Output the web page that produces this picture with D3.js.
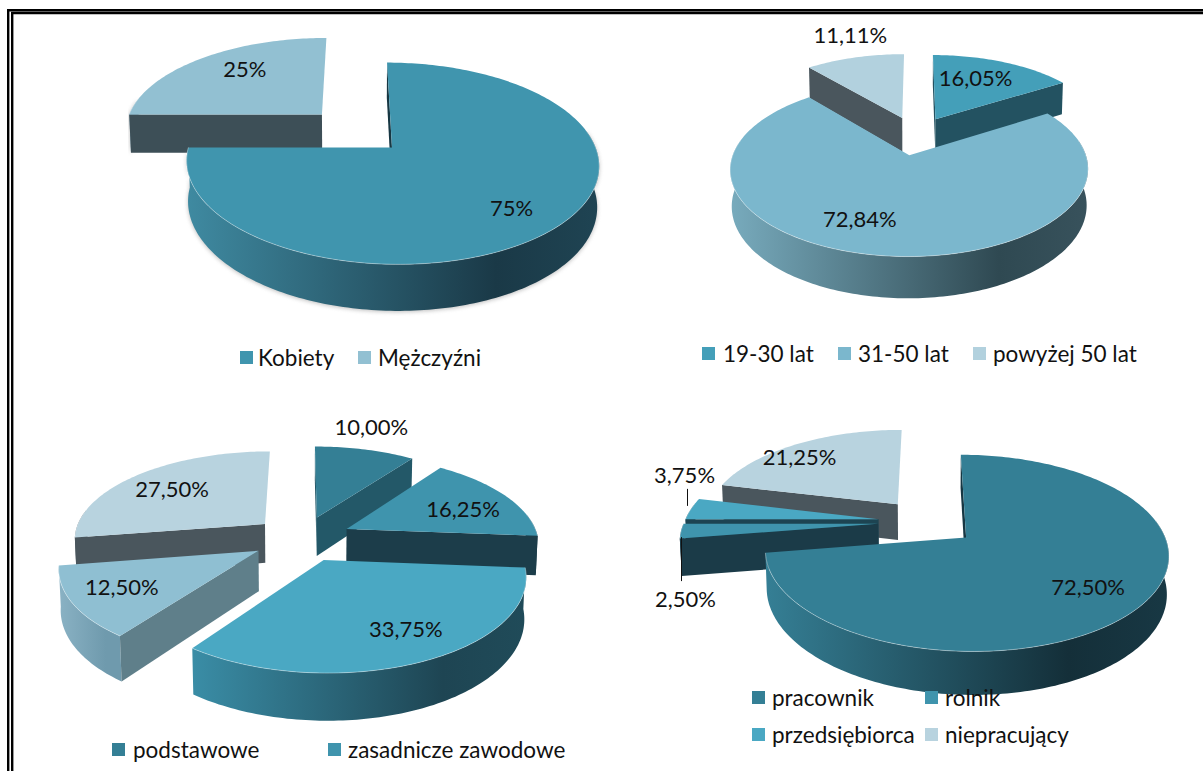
<!DOCTYPE html>
<html>
<head>
<meta charset="utf-8">
<script src="https://cdnjs.cloudflare.com/ajax/libs/d3/7.8.5/d3.min.js"></script>
<style>
html,body{margin:0;padding:0;background:#fff;overflow:hidden}
svg{display:block}
text{font-family:Lato,"Open Sans",sans-serif;fill:#111}
</style>
</head>
<body>
<svg id="c" width="1203" height="771"></svg>
<script>
// ---------- data ----------
const genderLabels = ["Kobiety", "Mężczyźni"];
const genderValues = [75, 25];
const genderText = ["75%", "25%"];

const ageLabels = ["19-30 lat", "31-50 lat", "powyżej 50 lat"];
const ageValues = [16.05, 72.84, 11.11];
const ageText = ["16,05%", "72,84%", "11,11%"];

const eduLabels = ["podstawowe", "zasadnicze zawodowe"];
const eduValues = [10, 16.25, 33.75, 12.5, 27.5];
const eduText = ["10,00%", "16,25%", "33,75%", "12,50%", "27,50%"];

const jobLabels = ["pracownik", "rolnik", "przedsiębiorca", "niepracujący"];
const jobValues = [72.5, 2.5, 3.75, 21.25];
const jobText = ["72,50%", "2,50%", "3,75%", "21,25%"];

// ---------- styles and layout ----------
const bigRim = (a, b, c) => [a, b, c];
const charts = [
  { labels: genderLabels, values: genderValues, text: genderText,
    cx: 356, cy: 130.5, R: 198, Ry: 93, H: 39.5, e: 0.25, shadow: true,
    top: ["#4095ae", "#92c0d2"], side: ["#173743", "#3d4f57"],
    rim: [bigRim("#3f8aa1", "#1a3947", "#1f4453"), bigRim("#8ab", "#8ab", "#8ab")],
    swatch: ["#4095ae", "#92c0d2"],
    labelNudge: [[21,15],[0,-9]],
    legend: [[240, 351, 258], [358, 351, 378]] },
  { labels: ageLabels, values: ageValues, text: ageText,
    cx: 916, cy: 135.5, R: 170, Ry: 78.7, H: 35, e: 0.245,
    top: ["#449fb9", "#7bb7cd", "#b2d1de"], side: ["#235261", "#3c5a66", "#4a565d"],
    rim: [bigRim("#2a6a7c", "#235261", "#235261"), bigRim("#78abbd", "#2f4952", "#38525c"), bigRim("#777", "#777", "#777")],
    swatch: ["#449fb9", "#7bb7cd", "#b2d1de"],
    labelNudge: [[-4,-4],[-30,6],[-21,-43]],
    legend: [[702, 347, 723], [838, 347, 858], [973, 347, 993]] },
  { labels: eduLabels, values: eduValues, text: eduText,
    cx: 302, cy: 538.5, R: 192, Ry: 88, H: 40, e: 0.26,
    top: ["#347f95", "#3f94ad", "#4aa8c3", "#8fbfd2", "#b8d3df"],
    side: ["#235868", "#1c3d4a", "#1c3d4a", "#5f7f8a", "#4a565d"],
    rim: [bigRim("#235868", "#235868", "#235868"), bigRim("#1c3d4a", "#1c3d4a", "#1c3d4a"),
          bigRim("#3a8da6", "#1e4553", "#204b59"), bigRim("#8ab2c4", "#6f9aad", "#6f9aad"), bigRim("#4a565d", "#4a565d", "#4a565d")],
    swatch: ["#347f95", "#3f94ad"],
    labelNudge: [[23,-46],[16,1],[23,11],[-25,5],[-12,-3]],
    legend: [[112, 743, 133], [328, 743, 348]] },
  { labels: jobLabels, values: jobValues, text: jobText,
    cx: 927.5, cy: 522, R: 194, Ry: 91, H: 37, e: 0.255,
    top: ["#347f95", "#3f94ad", "#4aa8c3", "#b8d3df"],
    side: ["#173743", "#1b3b48", "#1d4452", "#4a565d"],
    rim: [bigRim("#357f95", "#142f39", "#183844"), bigRim("#1b3b48", "#1b3b48", "#1b3b48"),
          bigRim("#1d4452", "#1d4452", "#1d4452"), bigRim("#4a565d", "#4a565d", "#4a565d")],
    swatch: ["#347f95", "#3f94ad", "#4aa8c3", "#b8d3df"],
    labelNudge: [[19,9],[-71,71],[-77,-37],[-33,-8]],
    legend: [[752, 691, 772], [925, 691, 945], [752, 728, 772], [925, 728, 945]],
    leaders: [{ slice: 1, dx: 0, dy: 6, len: 44 }, { slice: 2, dx: -4, dy: -3, len: -17 }] }
];
const k = 0.155, m = 0.008, labelFrac = 0.62, swatchSize = 13, legendFont = 22.5, labelFont = 22;

// ---------- drawing ----------
const svg = d3.select("#c");
const defs = svg.append("defs");
const shadow = defs.append("filter").attr("id", "soft").attr("x", "-5%").attr("y", "-5%").attr("width", "110%").attr("height", "115%");
shadow.append("feGaussianBlur").attr("stdDeviation", 2);

// double frame: top and left only reach the picture's edges
const frame = svg.append("g").attr("fill", "none").attr("stroke", "#000").attr("stroke-width", 2.4);
frame.append("path").attr("d", "M1203 10.2H8.2V771");
frame.append("path").attr("d", "M1203 13H12.2V771");

const line = d3.line();
const pie = d3.pie().sort(null).value(d => d);
let gradId = 0;

charts.forEach(c => {
  const g = svg.append("g");
  const arcs = pie(c.values);
  const project = (u, v, h) => {
    const den = 1 - k * v + m * h;
    return [c.cx + c.R * u / den, c.cy + (c.Ry * v + c.H * h) / den];
  };
  const slices = arcs.map((a, i) => {
    const mid = (a.startAngle + a.endAngle) / 2;
    const ox = c.e * Math.sin(mid), oy = -c.e * Math.cos(mid);
    const pt = (t, r, h) => project(ox + r * Math.sin(t), oy - r * Math.cos(t), h);
    return { a, i, mid, ox, oy, pt };
  }).sort((p, q) => p.oy - q.oy);

  const angles = (a0, a1) => {
    const n = Math.max(2, Math.ceil((a1 - a0) / 0.02));
    return d3.range(n + 1).map(j => a0 + (a1 - a0) * j / n);
  };

  slices.forEach(s => {
    const { a, pt, i } = s;
    const sideFace = t => line([pt(t, 0, 0), pt(t, 1, 0), pt(t, 1, 1), pt(t, 0, 1)]) + "Z";
    const rimFrom = Math.max(a.startAngle, 80 * Math.PI / 180);
    const rimTo = Math.min(a.endAngle, 280 * Math.PI / 180);
    if (rimTo > rimFrom) {
      const ts = angles(rimFrom, rimTo);
      const d = line(ts.map(t => pt(t, 1, 0)).concat(ts.slice().reverse().map(t => pt(t, 1, 1)))) + "Z";
      const id = "rim" + (gradId++);
      const lg = defs.append("linearGradient").attr("id", id);
      [0, 0.75, 1].forEach((o, n) => lg.append("stop").attr("offset", o).attr("stop-color", c.rim[i][n]));
      if (c.shadow) g.append("path").attr("d", d).attr("fill", "#888").attr("opacity", .55).attr("filter", "url(#soft)").attr("transform", "translate(0,1)");
      g.append("path").attr("d", d).attr("fill", `url(#${id})`);
    }
    // straight walls that face the viewer
    if (Math.sin(a.startAngle) < 0) g.append("path").attr("d", sideFace(a.startAngle)).attr("fill", c.side[i]);
    if (Math.sin(a.endAngle) > 0.001) g.append("path").attr("d", sideFace(a.endAngle)).attr("fill", c.side[i]);
    if (a.startAngle === 0) g.append("path").attr("d", sideFace(0)).attr("fill", c.side[i]);
    // top face
    const ring = angles(a.startAngle, a.endAngle).map(t => pt(t, 1, 0));
    g.append("path").attr("d", line([pt(0, 0, 0), ...ring]) + "Z").attr("fill", c.top[i]);
    // thin highlight on the front edge
    if (rimTo > rimFrom) {
      g.append("path").attr("d", line(angles(rimFrom, rimTo).map(t => pt(t, 1, 0))))
        .attr("fill", "none").attr("stroke", "#fff").attr("stroke-opacity", .45).attr("stroke-width", .8);
    }
  });

  // leader lines for the thin slices
  (c.leaders || []).forEach(l => {
    const s = slices.find(q => q.i === l.slice);
    const p = s.pt(s.mid, 1, 0);
    const x = Math.round(p[0] + l.dx) + .5, y0 = p[1] + l.dy;
    g.append("path").attr("d", line([[x, y0], [x, y0 + l.len]])).attr("stroke", "#111").attr("fill", "none");
  });

  // value labels
  slices.forEach(s => {
    const p = s.pt(s.mid, labelFrac, 0);
    const n = c.labelNudge[s.i];
    g.append("text").attr("x", p[0] + n[0]).attr("y", p[1] + n[1]).attr("dy", ".35em")
      .attr("text-anchor", "middle").attr("font-size", labelFont).text(c.text[s.i]);
  });

  // legend
  c.labels.forEach((name, i) => {
    const [sx, sy, tx] = c.legend[i];
    g.append("rect").attr("x", sx).attr("y", sy).attr("width", swatchSize).attr("height", swatchSize).attr("fill", c.swatch[i]);
    g.append("text").attr("x", tx).attr("y", sy + swatchSize / 2).attr("dy", ".38em").attr("font-size", legendFont).text(name);
  });
});
</script>
</body>
</html>
